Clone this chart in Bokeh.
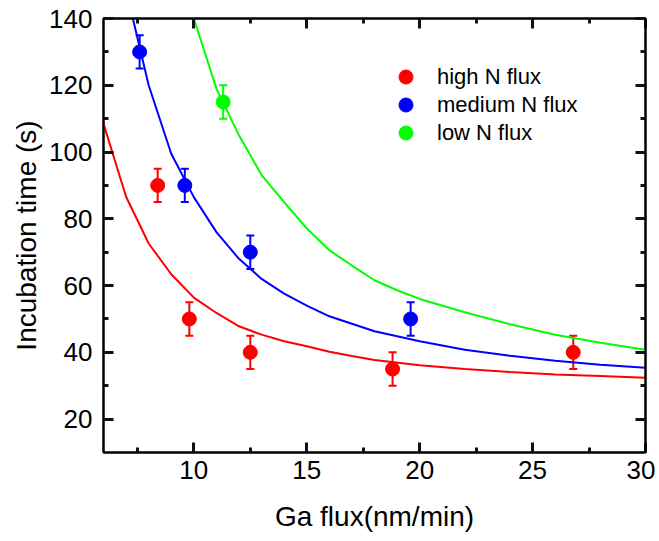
from bokeh.plotting import figure
from bokeh.models import (ColumnDataSource, Whisker, TeeHead, LinearAxis, Range1d,
                          FixedTicker, Legend, LegendItem)
from bokeh.embed import file_html
from bokeh.resources import INLINE

# ---- data ----
high_x = [8.4, 9.8, 12.5, 18.8, 26.8]
high_y = [90, 50, 40, 35, 40]
high_err = [5, 5, 5, 5, 5]

med_x = [7.6, 9.6, 12.5, 19.6]
med_y = [130, 90, 70, 50]
med_err = [5, 5, 5, 5]

low_x = [11.3]
low_y = [115]
low_err = [5]

fit_high_x = [6, 7, 8, 9, 10, 11, 12, 13, 14, 15, 16, 17, 18, 20, 22, 24, 26, 28, 30]
fit_high_y = [108.5, 86.6, 72.6, 63.4, 56.4, 51.8, 47.8, 45.3, 43.3, 41.8, 40.2, 38.9, 37.7,
              36.1, 35.0, 34.1, 33.4, 32.9, 32.4]

fit_med_x = [7.3, 8, 9, 10, 11, 12, 13, 14, 15, 16, 18, 20, 22, 24, 26, 28, 30]
fit_med_y = [140, 120, 99.5, 86.5, 76, 68, 62, 57.6, 54, 50.8, 46.3, 43.3, 40.8, 39.0,
             37.5, 36.3, 35.4]

fit_low_x = [10, 11, 12, 13, 14, 15, 16, 17, 18, 19, 20, 22, 24, 26, 28, 30]
fit_low_y = [140, 119, 105, 93.1, 85, 77.1, 70.6, 66, 61.6, 58.6, 56, 52, 48.4, 45.3, 42.9, 40.8]

labels = ["high N flux", "medium N flux", "low N flux"]
colors = ["#FF0000", "#0000FF", "#00FF00"]

x_lim = [6, 30]
y_lim = [10, 140]
x_ticks = [10, 15, 20, 25, 30]
x_minor = [7.5, 12.5, 17.5, 22.5, 27.5]
y_ticks = [20, 40, 60, 80, 100, 120, 140]
y_minor = [30, 50, 70, 90, 110, 130]

FONT = "Liberation Sans"

p = figure(width=655, height=540, output_backend="svg", toolbar_location=None,
           x_range=Range1d(*x_lim), y_range=Range1d(*y_lim),
           x_axis_label="Ga flux(nm/min)", y_axis_label="Incubation time (s)",
           min_border_left=103, min_border_top=18, min_border_right=10, min_border_bottom=88)
p.grid.visible = False
p.outline_line_color = "black"
p.outline_line_width = 2
p.background_fill_color = None


def style_axis(ax, ticks, minor, show_labels=True):
    ax.ticker = FixedTicker(ticks=ticks, minor_ticks=minor)
    ax.axis_line_width = 2
    ax.axis_line_color = "black"
    ax.major_tick_in = 10
    ax.major_tick_out = 0
    ax.minor_tick_in = 5
    ax.minor_tick_out = 0
    ax.major_tick_line_width = 3
    ax.minor_tick_line_width = 3
    ax.major_tick_line_color = "#111111"
    ax.minor_tick_line_color = "#111111"
    ax.major_label_text_font = FONT
    ax.major_label_text_font_size = "26px"
    ax.major_label_text_color = "black"
    ax.major_label_standoff = 10
    ax.axis_label_text_font = FONT
    ax.axis_label_text_font_size = "28px"
    ax.axis_label_text_font_style = "normal"
    ax.axis_label_text_color = "black"
    if not show_labels:
        ax.major_label_text_alpha = 0
        ax.major_label_text_font_size = "1px"


style_axis(p.xaxis[0], x_ticks, x_minor)
style_axis(p.yaxis[0], y_ticks, y_minor)
p.xaxis[0].major_label_standoff = 8
p.xaxis[0].axis_label_standoff = 19
p.yaxis[0].major_label_standoff = 11
p.yaxis[0].axis_label_standoff = 4

top_ax = LinearAxis()
style_axis(top_ax, x_ticks, x_minor, show_labels=False)
p.add_layout(top_ax, "above")
right_ax = LinearAxis()
style_axis(right_ax, y_ticks, y_minor, show_labels=False)
p.add_layout(right_ax, "right")

# fit curves
for fx, fy, c in [(fit_high_x, fit_high_y, colors[0]),
                  (fit_med_x, fit_med_y, colors[1]),
                  (fit_low_x, fit_low_y, colors[2])]:
    p.line(fx, fy, line_color=c, line_width=2)

legend_y = [358, 330, 302]
for xs, ys, es, c, lab, ly in [(high_x, high_y, high_err, colors[0], labels[0], legend_y[0]),
                               (med_x, med_y, med_err, colors[1], labels[1], legend_y[1]),
                               (low_x, low_y, low_err, colors[2], labels[2], legend_y[2])]:
    src = ColumnDataSource(dict(x=xs, y=ys,
                                lo=[y - e for y, e in zip(ys, es)],
                                hi=[y + e for y, e in zip(ys, es)]))
    w = Whisker(base="x", lower="lo", upper="hi", source=src, dimension="height",
                line_color=c, line_width=2,
                lower_head=TeeHead(size=8, line_color=c, line_width=2),
                upper_head=TeeHead(size=8, line_color=c, line_width=2))
    p.add_layout(w)
    r = p.scatter("x", "y", source=src, size=14, marker="circle",
                  fill_color=c, line_color=c)
    leg = Legend(items=[LegendItem(label=lab, renderers=[r])], location=(285, ly),
                 background_fill_alpha=0, border_line_alpha=0,
                 label_text_font=FONT, label_text_font_size="22px",
                 label_text_color="black",
                 glyph_width=35, glyph_height=35, label_standoff=14,
                 spacing=0, padding=0, margin=0)
    p.add_layout(leg, "center")

open("out.html", "w").write(file_html(p, INLINE))
